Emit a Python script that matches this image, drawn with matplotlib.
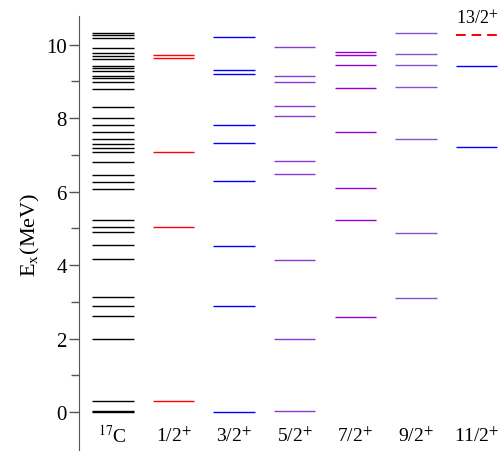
import matplotlib
matplotlib.use("Agg")
import matplotlib.pyplot as plt

plt.rcParams['font.family'] = ['Liberation Serif', 'DejaVu Serif']
plt.rcParams['mathtext.fontset'] = 'stix'

# level energies (MeV)
c17_levels = [0.0, 0.03, 0.30, 2.0, 2.62, 2.90, 3.13, 4.16, 4.54, 4.89, 5.03, 5.22,
              6.08, 6.26, 6.45, 6.81, 7.07, 7.19, 7.30, 7.43, 7.62, 7.80, 8.01,
              8.30, 8.80, 8.97, 9.10, 9.16, 9.29, 9.37, 9.42, 9.60, 9.70, 9.77,
              9.90, 10.19, 10.25, 10.31]
j1_levels = [0.30, 5.03, 7.08, 9.63, 9.71]
j3_levels = [0.0, 2.90, 4.52, 6.28, 7.31, 7.82, 9.19, 9.32, 10.22]
j5_levels = [0.04, 1.99, 4.14, 6.47, 6.83, 8.07, 8.34, 8.99, 9.14, 9.93]
j7_levels = [2.60, 5.22, 6.09, 7.63, 8.82, 9.45, 9.73, 9.81]
j9_levels = [3.10, 4.86, 7.44, 8.84, 9.45, 9.74, 10.33]
j11_levels = [7.21, 9.42]
j13_levels = [10.26]

column_labels = ['$^{17}$C', '1/2$^{+}$', '3/2$^{+}$', '5/2$^{+}$',
                 '7/2$^{+}$', '9/2$^{+}$', '11/2$^{+}$']

fig = plt.figure(figsize=(5.04, 4.52), dpi=100)
ax = fig.add_axes([0.157, 0.0, 0.843, 0.9624])

half = 0.342
lw = 1.0


def draw_levels(x, levels, color, ls='-'):
    for e in levels:
        ax.plot([x - half, x + half], [e, e], color=color, lw=lw, ls=ls,
                solid_capstyle='butt')


draw_levels(0, c17_levels, 'black')
draw_levels(1, j1_levels, 'red')
draw_levels(2, j3_levels, 'blue')
draw_levels(3, j5_levels, '#8a3ad6')
draw_levels(4, j7_levels, '#9400d3')
draw_levels(5, j9_levels, '#8a50d0')
draw_levels(6, j11_levels, 'blue')
ax.plot([6 - half, 6 + half], [j13_levels[0]] * 2, color='red', lw=1.4,
        dashes=(5, 3))
ax.text(6, j13_levels[0] + 0.22, '13/2$^{+}$', ha='center', va='bottom',
        fontsize=13)

for i, lab in enumerate(column_labels):
    ax.text(i, -0.62, lab, ha='center', va='center', fontsize=14)

ax.set_xlim(-0.555, 6.45)
ax.set_ylim(-1.06, 10.78)
for s in ['top', 'right', 'bottom']:
    ax.spines[s].set_visible(False)
ax.spines['left'].set_color('#555555')
ax.set_xticks([])
ax.set_yticks([0, 2, 4, 6, 8, 10])
ax.set_yticks([1, 3, 5, 7, 9], minor=True)
ax.tick_params(axis='y', which='major', length=7, width=1, color='#555555',
               labelsize=15, pad=2)
ax.tick_params(axis='y', which='minor', length=6, width=1, color='#555555')
ax.set_ylabel('E$_{\\rm x}$(MeV)', fontsize=16, labelpad=3)

fig.savefig('out.png', dpi=100)
